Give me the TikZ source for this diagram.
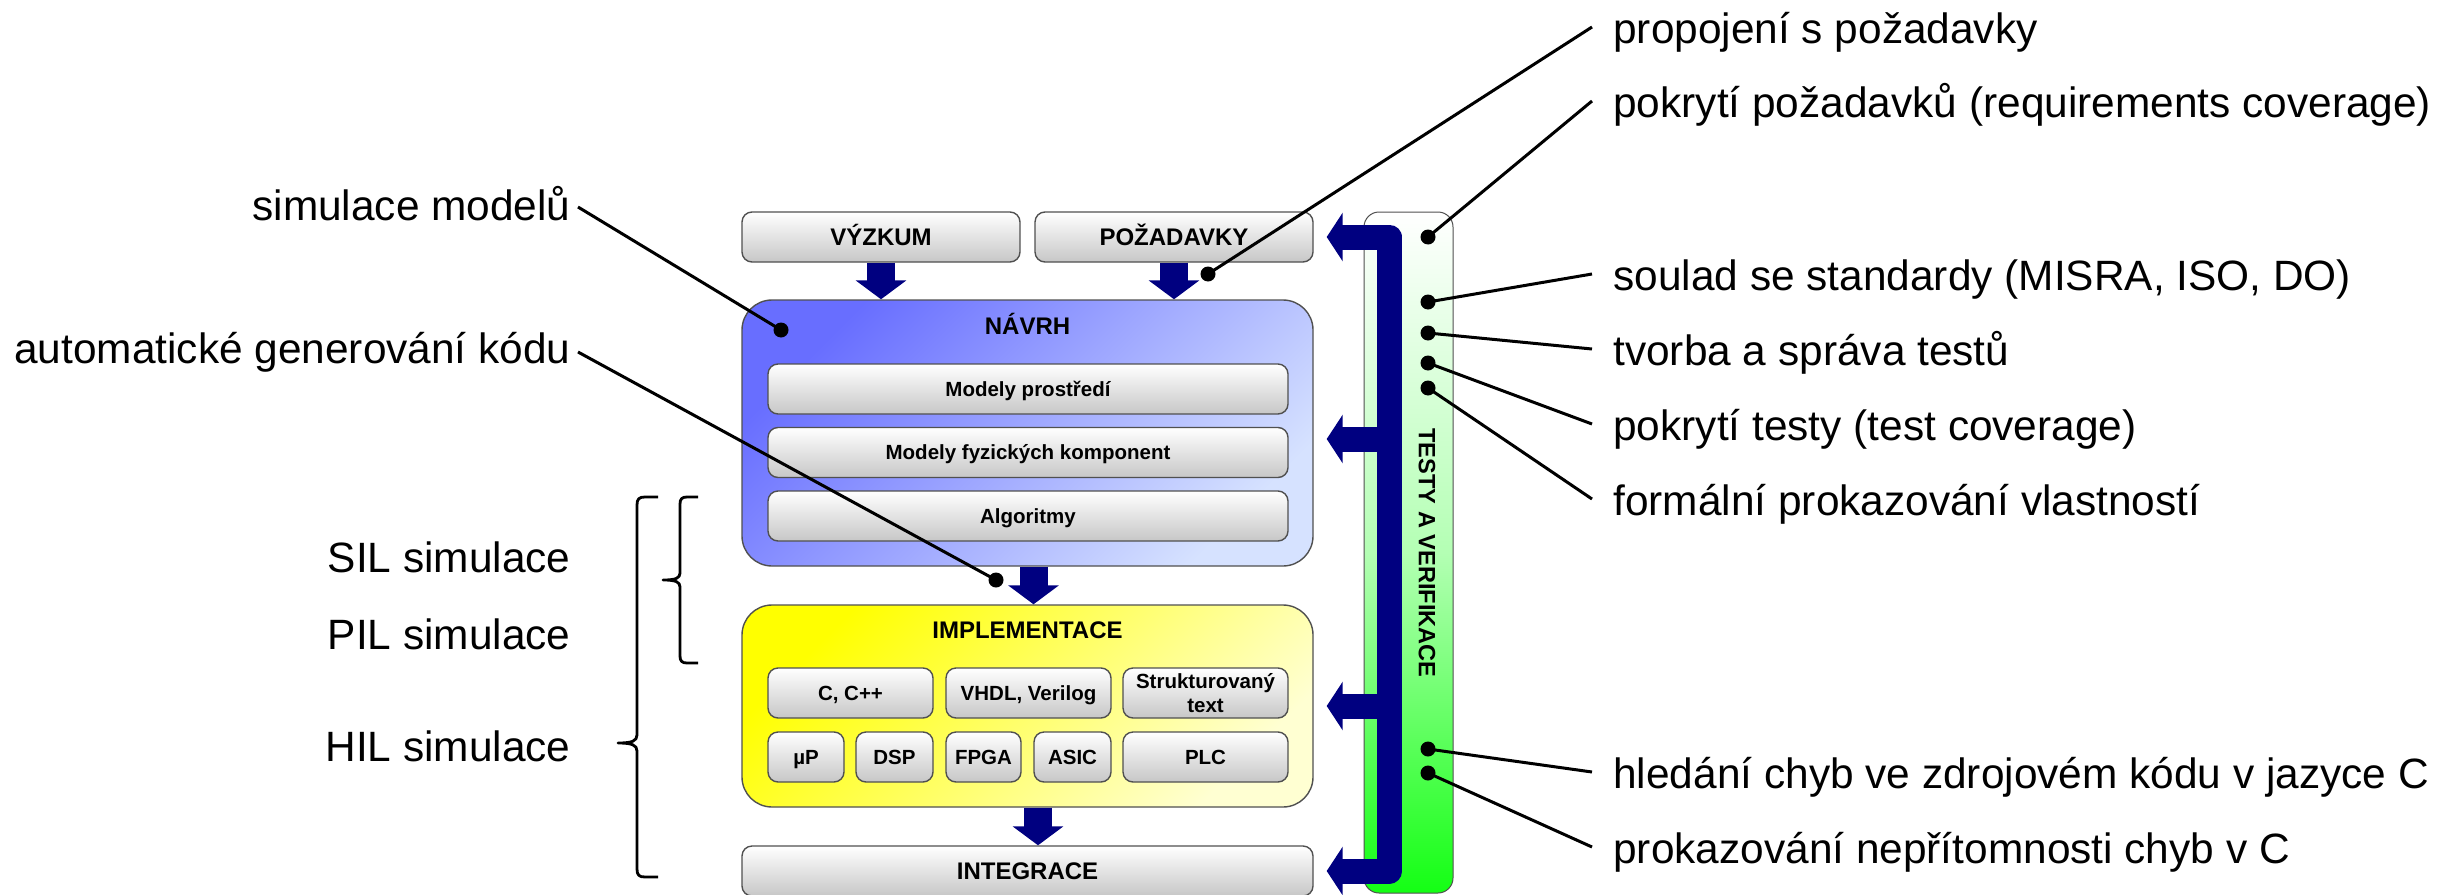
\documentclass[tikz,border=0pt]{standalone}
\usepackage{fontspec}
\setmainfont{Liberation Sans}
\usetikzlibrary{arrows.meta}
\definecolor{navyb}{RGB}{0,0,128}
\definecolor{navA}{RGB}{104,110,255}
\definecolor{navB}{RGB}{214,226,255}
\definecolor{impA}{RGB}{255,255,0}
\definecolor{impB}{RGB}{255,255,210}
\definecolor{grnB}{RGB}{20,255,20}
\definecolor{bord}{RGB}{80,80,80}
\begin{document}
\begin{tikzpicture}[x=0.5pt,y=-0.5pt,
  gbox/.style={draw=bord, line width=0.7pt, rounded corners=5pt, top color=white, bottom color=black!22, minimum height=25pt, inner sep=0pt, text depth=0pt},
  gmain/.style={gbox, font=\fontsize{12}{14}\selectfont\bfseries, text height=8.6pt, minimum width=139pt},
  ginner/.style={gbox, font=\fontsize{10.25}{12}\selectfont\bfseries, text height=7.34pt},
  bigbox/.style={draw=bord, line width=0.7pt, rounded corners=15pt, minimum width=285.5pt, inner sep=0pt},
  title/.style={font=\fontsize{12}{14}\selectfont\bfseries, inner sep=0pt, anchor=base},
  lbl/.style={font=\fontsize{21.2}{25}\selectfont, inner sep=0pt},
  dot/.style={circle, fill=black, inner sep=0pt, minimum size=7.5pt},
  ptr/.style={line width=1.5pt},
  downarr/.style={draw=navyb, line width=14pt, -{Triangle[width=25pt,length=9.5pt]}},
  bus/.style={draw=navyb, line width=12.5pt, line join=round},
  brace/.style={line width=1.4pt, line join=round},
]
\useasboundingbox (0,0) rectangle (2441,894);

% main blocks
\node[bigbox, minimum height=133pt, top color=navA, bottom color=navB, shading angle=45] (navrh) at (1027.5,433) {};
\node[bigbox, minimum height=101pt, top color=impA, bottom color=impB, shading angle=45] (impl) at (1027.5,706) {};
\node[title] (navrhT) at (1027.5,334) {NÁVRH};
\node[title] (implT) at (1027.5,638) {IMPLEMENTACE};

\node[gmain] (vyzkum) at (881,237) {VÝZKUM};
\node[gmain] (pozad) at (1174,237) {POŽADAVKY};
\node[ginner, minimum width=260pt] (mp) at (1028,389) {Modely prostředí};
\node[ginner, minimum width=260pt] (mf) at (1028,452.5) {Modely fyzických komponent};
\node[ginner, minimum width=260pt] (alg) at (1028,516) {Algoritmy};
\node[ginner, minimum width=82.5pt] (cc) at (850.5,693) {C, C++};
\node[ginner, minimum width=82.5pt] (vhdl) at (1028.5,693) {VHDL, Verilog};
\node[ginner, minimum width=82.5pt, align=center, text height=19.34pt, text depth=0pt] (st) at (1205.5,693) {Strukturovaný\\text};
\node[ginner, minimum width=38pt] (up) at (806,757) {µP};
\node[ginner, minimum width=38.5pt] (dsp) at (894.5,757) {DSP};
\node[ginner, minimum width=37.5pt] (fpga) at (983.5,757) {FPGA};
\node[ginner, minimum width=38.5pt] (asic) at (1072.5,757) {ASIC};
\node[ginner, minimum width=82.5pt] (plc) at (1205.5,757) {PLC};
\node[gmain, minimum width=285.5pt] (integ) at (1027.5,871) {INTEGRACE};

% tests column
\node[draw=bord, line width=0.5pt, rounded corners=7.5pt, top color=white, bottom color=grnB, middle color=grnB!32!white, minimum width=44.5pt, minimum height=340.5pt, inner sep=0pt] (testy) at (1408.5,552.5) {};
\node[rotate=-90, font=\fontsize{11.8}{14}\selectfont\bfseries, inner sep=0pt] (testyT) at (1427,553) {TESTY A VERIFIKACE};

% flow arrows
\draw[downarr] (vyzkum.south) -- (vyzkum.south |- navrh.north);
\draw[downarr] (pozad.south) -- (pozad.south |- navrh.north);
\draw[downarr] ([xshift=3pt]navrh.south) -- ([xshift=3pt]navrh.south |- impl.north);
\draw[downarr] ([xshift=5.25pt]impl.south) -- ([xshift=5.25pt]impl.south |- integ.north);

% bus
\coordinate (busX) at (1389.5,550);
\coordinate (nT) at ([xshift=6.5pt,yshift=-3pt]navrh.east);
\coordinate (iT) at ([xshift=6.5pt]impl.east);
\draw[bus, {Triangle[width=24pt,length=8pt]}-{Triangle[width=24pt,length=8pt]}] ([xshift=6.5pt]pozad.east) -- (busX |- pozad.east) -- (busX |- integ.east) -- ([xshift=6.5pt]integ.east);
\draw[bus, -{Triangle[width=24pt,length=8pt]}] (busX |- nT) -- (nT);
\draw[bus, -{Triangle[width=24pt,length=8pt]}] (busX |- iT) -- (iT);

% labels
\node[lbl, anchor=base east] (l1) at (571,220) {simulace modelů};
\node[lbl, anchor=base east] (l2) at (571,363) {automatické generování kódu};
\node[lbl, anchor=base east] (l3) at (571,572) {SIL simulace};
\node[lbl, anchor=base east] (l4) at (571,649) {PIL simulace};
\node[lbl, anchor=base east] (l5) at (571,761) {HIL simulace};

\node[lbl, anchor=base west] (r1) at (1613,43) {propojení s požadavky};
\node[lbl, anchor=base west] (r2) at (1613,117) {pokrytí požadavků (requirements coverage)};
\node[lbl, anchor=base west] (r3) at (1613,290) {soulad se standardy (MISRA, ISO, DO)};
\node[lbl, anchor=base west] (r4) at (1613,365) {tvorba a správa testů};
\node[lbl, anchor=base west] (r5) at (1613,440) {pokrytí testy (test coverage)};
\node[lbl, anchor=base west] (r6) at (1613,515) {formální prokazování vlastností};
\node[lbl, anchor=base west] (r7) at (1613,788) {hledání chyb ve zdrojovém kódu v jazyce C};
\node[lbl, anchor=base west] (r8) at (1613,863) {prokazování nepřítomnosti chyb v C};

% dots
\node[dot] (dSim) at (781,330) {};
\node[dot] (dGen) at (996,580) {};
\node[dot] (dProp) at (1208,274) {};
\node[dot] (g1) at (1428,237) {};
\node[dot] (g2) at (1428,302) {};
\node[dot] (g3) at (1428,333) {};
\node[dot] (g4) at (1428,363) {};
\node[dot] (g5) at (1428,388) {};
\node[dot] (g6) at (1428,749) {};
\node[dot] (g7) at (1428,773) {};

% pointer lines
\draw[ptr] ([shift={(3.5pt,6.5pt)}]l1.base east) -- (dSim.center);
\draw[ptr] ([shift={(3.5pt,5.5pt)}]l2.base east) -- (dGen.center);
\draw[ptr] ([shift={(-10.5pt,8pt)}]r1.base west) -- (dProp.center);
\draw[ptr] ([shift={(-10.5pt,8pt)}]r2.base west) -- (g1.center);
\draw[ptr] ([shift={(-10.5pt,8pt)}]r3.base west) -- (g2.center);
\draw[ptr] ([shift={(-10.5pt,8pt)}]r4.base west) -- (g3.center);
\draw[ptr] ([shift={(-10.5pt,8pt)}]r5.base west) -- (g4.center);
\draw[ptr] ([shift={(-10.5pt,8pt)}]r6.base west) -- (g5.center);
\draw[ptr] ([shift={(-10.5pt,8pt)}]r7.base west) -- (g6.center);
\draw[ptr] ([shift={(-10.5pt,8pt)}]r8.base west) -- (g7.center);

% braces
\draw[brace] (658,497) -- (645,497) .. controls (639,497) and (637,499) .. (637,505) -- (637,735) .. controls (637,741) and (632,743) .. (618,743) .. controls (632,743) and (637,745) .. (637,751) -- (637,869) .. controls (637,875) and (639,877) .. (645,877) -- (658,877);
\draw[brace] (698,497) -- (687,497) .. controls (682,497) and (680,499) .. (680,504) -- (680,573) .. controls (680,578) and (676,580) .. (663,580) .. controls (676,580) and (680,582) .. (680,587) -- (680,656) .. controls (680,661) and (682,663) .. (687,663) -- (698,663);
\end{tikzpicture}
\end{document}
